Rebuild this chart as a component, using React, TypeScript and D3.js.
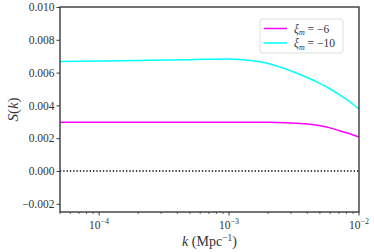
import React, { useEffect, useRef } from 'react';
import * as d3 from 'd3';

// S(k)
const kValues = [5e-5, 1e-4, 2e-4, 5e-4, 1e-3, 1.5e-3, 2e-3, 3e-3, 4e-3, 5e-3, 6e-3, 7e-3, 8e-3, 9e-3, 1e-2];
const sXi6 = [0.00298, 0.00298, 0.00298, 0.00298, 0.00298, 0.00298, 0.00297, 0.00293, 0.00286, 0.00276, 0.00263, 0.00247, 0.00233, 0.00220, 0.00207];
const sXi10 = [0.00667, 0.00670, 0.00674, 0.00679, 0.00683, 0.00672, 0.00656, 0.00610, 0.00570, 0.00534, 0.00500, 0.00467, 0.00437, 0.00407, 0.00378];
const yTicks = [-0.002, 0, 0.002, 0.004, 0.006, 0.008, 0.010];
const xTickExps = [-4, -3, -2];

const series = [
  { label: '−6', color: '#ff00ff', values: sXi6 },
  { label: '−10', color: '#00ffff', values: sXi10 },
];

const App = () => {
  const ref = useRef<SVGSVGElement>(null);

  useEffect(() => {
    const width = 374;
    const height = 252;
    const margin = { left: 60, right: 15, top: 7, bottom: 40 };
    const font = '"Liberation Serif", "DejaVu Serif", serif';

    const svg = d3.select(ref.current);
    svg.selectAll('*').remove();

    const x = d3.scaleLog().domain([5e-5, 1e-2]).range([margin.left, width - margin.right]);
    const y = d3.scaleLinear().domain([-0.0025, 0.010]).range([height - margin.bottom, margin.top]);

    // zero line
    svg.append('line')
      .attr('x1', x(5e-5)).attr('x2', x(1e-2))
      .attr('y1', y(0)).attr('y2', y(0))
      .attr('stroke', '#000').attr('stroke-width', 1.3)
      .attr('stroke-dasharray', '1.3,2');

    const line = d3.line<number>()
      .x((_, i) => x(kValues[i]))
      .y(d => y(d))
      .curve(d3.curveMonotoneX);

    series.forEach(s => {
      svg.append('path')
        .datum(s.values)
        .attr('d', line)
        .attr('fill', 'none')
        .attr('stroke', s.color)
        .attr('stroke-width', 1.5);
    });

    // frame
    svg.append('rect')
      .attr('x', margin.left).attr('y', margin.top)
      .attr('width', width - margin.left - margin.right)
      .attr('height', height - margin.top - margin.bottom)
      .attr('fill', 'none').attr('stroke', '#3a3a3a').attr('stroke-width', 1.4);

    // y axis
    const yAxis = svg.append('g')
      .attr('transform', `translate(${margin.left},0)`)
      .call(d3.axisLeft(y).tickValues(yTicks).tickSize(3.5).tickPadding(2)
        .tickFormat(d => (+d < 0 ? '−' : '') + d3.format('.3f')(Math.abs(+d))));
    yAxis.select('.domain').remove();
    yAxis.selectAll('line').attr('stroke', '#3a3a3a');
    yAxis.selectAll('text').attr('font-family', font).attr('font-size', 11.5).attr('fill', '#333');

    // x axis
    const xAxis = svg.append('g')
      .attr('transform', `translate(0,${height - margin.bottom})`);
    const minor: number[] = [];
    for (let e = -5; e < -2; e++) {
      for (let m = 2; m <= 9; m++) {
        const v = m * Math.pow(10, e);
        if (v >= 5e-5 && v <= 1e-2) minor.push(v);
      }
    }
    xAxis.selectAll('.minor').data(minor).enter().append('line')
      .attr('x1', d => x(d)).attr('x2', d => x(d))
      .attr('y1', 0).attr('y2', 2)
      .attr('stroke', '#3a3a3a').attr('stroke-width', 0.8);
    xAxis.selectAll('.major').data(xTickExps).enter().append('line')
      .attr('x1', d => x(Math.pow(10, d))).attr('x2', d => x(Math.pow(10, d)))
      .attr('y1', 0).attr('y2', 3.5)
      .attr('stroke', '#3a3a3a').attr('stroke-width', 1);
    const xt = xAxis.selectAll('.lbl').data(xTickExps).enter().append('text')
      .attr('x', d => x(Math.pow(10, d)))
      .attr('y', 17)
      .attr('text-anchor', 'middle')
      .attr('font-family', font).attr('font-size', 11.5).attr('fill', '#333');
    xt.append('tspan').text('10');
    xt.append('tspan').attr('dy', -5).attr('font-size', 8).text(d => '−' + Math.abs(d));

    // axis labels
    const xl = svg.append('text')
      .attr('x', (margin.left + width - margin.right) / 2)
      .attr('y', 246)
      .attr('text-anchor', 'middle')
      .attr('font-family', font).attr('font-size', 14).attr('fill', '#333');
    xl.append('tspan').attr('font-style', 'italic').text('k');
    xl.append('tspan').text(' (Mpc');
    xl.append('tspan').attr('dy', -5).attr('font-size', 9.5).text('−1');
    xl.append('tspan').attr('dy', 5).text(')');

    const yl = svg.append('text')
      .attr('transform', `translate(18,${(margin.top + height - margin.bottom) / 2}) rotate(-90)`)
      .attr('text-anchor', 'middle')
      .attr('font-family', font).attr('font-size', 15).attr('fill', '#333');
    yl.append('tspan').attr('font-style', 'italic').text('S');
    yl.append('tspan').text('(');
    yl.append('tspan').attr('font-style', 'italic').text('k');
    yl.append('tspan').text(')');

    // legend
    const lg = svg.append('g').attr('transform', 'translate(260,19)');
    lg.append('rect')
      .attr('width', 83).attr('height', 34).attr('rx', 2.5)
      .attr('fill', '#fff').attr('stroke', '#ddd').attr('stroke-width', 1);
    series.forEach((s, i) => {
      const yy = 9.5 + i * 14.5;
      lg.append('line')
        .attr('x1', 4).attr('x2', 27).attr('y1', yy).attr('y2', yy)
        .attr('stroke', s.color).attr('stroke-width', 1.5);
      const t = lg.append('text')
        .attr('x', 34).attr('y', yy + 4)
        .attr('font-family', font).attr('font-size', 11.5).attr('fill', '#333');
      t.append('tspan').attr('font-style', 'italic').text('ξ');
      t.append('tspan').attr('font-style', 'italic').attr('font-size', 8).attr('dy', 2.5).text('m');
      t.append('tspan').attr('dy', -2.5).text(' = ' + s.label);
    });
  }, []);

  return (
    <svg ref={ref} width={374} height={252}
      style={{ position: 'absolute', left: 0, top: 0, background: '#fff' }} />
  );
};

export default App;
